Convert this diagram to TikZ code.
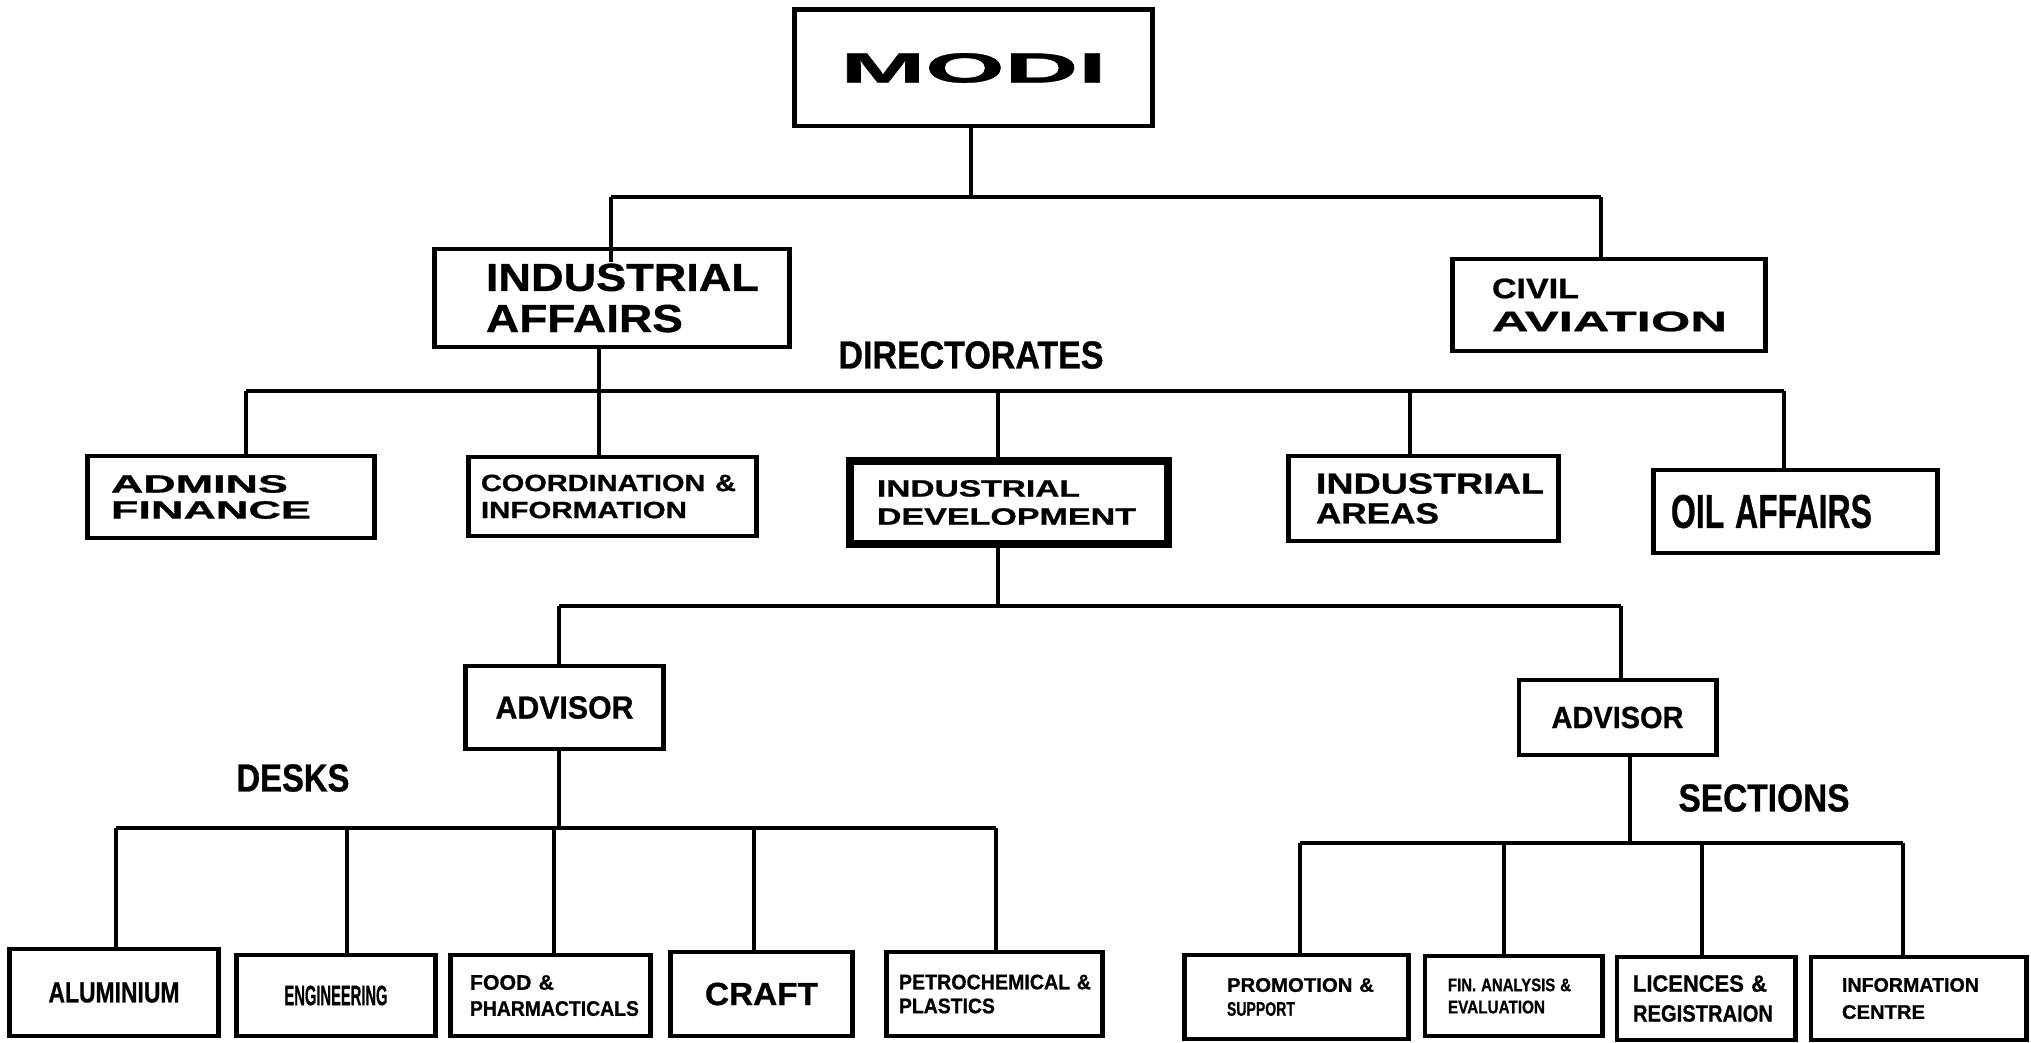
\documentclass[tikz,border=0pt]{standalone}
\usepackage{fontspec}
\setmainfont{Liberation Sans}[BoldFont={Liberation Sans Bold}, BoldFeatures={FakeBold=0.8}]
\usepackage{graphicx}
\newlength\upx
\setlength\upx{0.01cm}
\newcommand\xfit[2]{\resizebox{#1\upx}{\height}{#2}}
\newcommand\fs[2]{\fontsize{#1}{#2}\selectfont\bfseries}
\begin{document}
\begin{tikzpicture}[x=0.01cm,y=-0.01cm,
  box/.style={draw, line width=1.4pt, rectangle, inner ysep=0pt},
  lbox/.style={box, align=left},
  cbox/.style={box, align=center, inner xsep=0pt},
  conn/.style={line width=1.1pt},
  lbl/.style={inner sep=0pt}]
\useasboundingbox (0,0) rectangle (2031,1043);

% ---- nodes ----
\node[cbox, minimum width=3.57cm, minimum height=1.16cm, font={\fs{11.9}{14}}] (modi) at (973.5,68) {\xfit{266}{MODI}};
\node[lbox, minimum height=0.98cm, inner xsep=0.51cm, text width=2.52cm, font={\fs{11.1}{11.7}}] (ia) at (612,298) {\xfit{273}{INDUSTRIAL}\\\xfit{197}{AFFAIRS}};
\node[lbox, minimum height=0.92cm, inner xsep=0.39cm, text width=2.34cm, font={\fs{8}{9.4}}] (ca) at (1609,305) {\xfit{87}{CIVIL}\\\xfit{235}{AVIATION}};
\node[lbl, font={\fs{11.1}{12}}] (dirs) at (971,355) {\xfit{265}{DIRECTORATES}};

\node[lbox, minimum height=0.82cm, inner xsep=0.23cm, text width=2.40cm, font={\fs{7.1}{7.4}}] (adm) at (231,497) {\xfit{177}{ADMINS}\\\xfit{200}{FINANCE}};
\node[lbox, minimum height=0.79cm, inner xsep=0.12cm, text width=2.63cm, font={\fs{6.7}{7.7}}] (coord) at (612.5,496.5) {\xfit{255}{COORDINATION \&}\\\xfit{206}{INFORMATION}};
\node[lbox, line width=2.4pt, minimum height=0.83cm, inner xsep=0.27cm, text width=2.64cm, font={\fs{6.7}{8}}] (indev) at (1009,502.5) {\xfit{203}{INDUSTRIAL}\\\xfit{259}{DEVELOPMENT}};
\node[lbox, minimum height=0.85cm, inner xsep=0.27cm, text width=2.15cm, font={\fs{8.3}{8.5}}] (iar) at (1423.5,498.5) {\xfit{228}{INDUSTRIAL}\\\xfit{123}{AREAS}};
\node[lbox, minimum height=0.83cm, inner xsep=0.17cm, text width=2.49cm, font={\fs{13.5}{14}}] (oil) at (1795.5,511.5) {\xfit{201}{OIL AFFAIRS}};

\node[cbox, minimum width=1.97cm, minimum height=0.83cm, font={\fs{9.1}{10}}] (advL) at (564.5,707.5) {\xfit{138}{ADVISOR}};
\node[cbox, minimum width=1.97cm, minimum height=0.75cm, font={\fs{8.7}{10}}] (advR) at (1617.5,717.5) {\xfit{132}{ADVISOR}};
\node[lbl, font={\fs{11.1}{12}}] (desks) at (293,778) {\xfit{113}{DESKS}};
\node[lbl, font={\fs{11.1}{12}}] (sections) at (1764,798) {\xfit{171}{SECTIONS}};

\node[cbox, minimum width=2.08cm, minimum height=0.87cm, font={\fs{8.3}{10}}] (alu) at (114,992.5) {\xfit{131}{ALUMINIUM}};
\node[cbox, minimum width=1.98cm, minimum height=0.81cm, font={\fs{8}{10}}] (eng) at (336,995.5) {\xfit{103}{ENGINEERING}};
\node[lbox, minimum height=0.81cm, inner xsep=0.19cm, text width=1.61cm, font={\fs{6}{7.4}}] (food) at (550.5,995.5) {\xfit{84}{FOOD \&}\\\xfit{169}{PHARMACTICALS}};
\node[cbox, minimum width=1.81cm, minimum height=0.84cm, font={\fs{9.1}{10}}] (craft) at (761.5,994) {\xfit{113}{CRAFT}};
\node[lbox, minimum height=0.84cm, inner xsep=0.12cm, text width=1.91cm, font={\fs{6}{6.8}}] (petro) at (994.5,994) {\xfit{192}{PETROCHEMICAL \&}\\\xfit{96}{PLASTICS}};

\node[lbox, minimum height=0.84cm, inner xsep=0.42cm, text width=1.39cm, font={\fs{5.6}{6.8}}] (promo) at (1296.5,997) {\xfit{147}{PROMOTION \&}\\\xfit{68}{SUPPORT}};
\node[lbox, minimum height=0.80cm, inner xsep=0.23cm, text width=1.31cm, font={\fs{5.2}{6.3}}] (fin) at (1513.5,996) {\xfit{123}{FIN. ANALYSIS \&}\\\xfit{97}{EVALUATION}};
\node[lbox, minimum height=0.83cm, inner xsep=0.16cm, text width=1.46cm, font={\fs{6.7}{8.5}}] (lic) at (1706,998.5) {\xfit{134}{LICENCES \&}\\\xfit{140}{REGISTRAION}};
\node[lbox, minimum height=0.83cm, inner xsep=0.31cm, text width=1.53cm, font={\fs{5.6}{7.7}}] (info) at (1918.5,998.5) {\xfit{137}{INFORMATION}\\\xfit{83}{CENTRE}};

% ---- junction coordinates ----
\coordinate (t0) at (971,197);
\coordinate (tL) at (611,197);
\coordinate (tR) at (1601,197);
\coordinate (iaIn) at (611,262);
\coordinate (dIA) at (599,391);
\coordinate (dL) at (246,391);
\coordinate (dR) at (1784,391);
\coordinate (d3) at (998,391);
\coordinate (d4) at (1410,391);
\coordinate (e0) at (998,606);
\coordinate (eL) at (559,606);
\coordinate (eR) at (1621,606);
\coordinate (f0) at (559,828);
\coordinate (f1) at (116,828);
\coordinate (f2) at (347,828);
\coordinate (f3) at (554,828);
\coordinate (f4) at (754,828);
\coordinate (f5) at (996,828);
\coordinate (g0) at (1630,843);
\coordinate (g1) at (1300,843);
\coordinate (g2) at (1504,843);
\coordinate (g3) at (1702,843);
\coordinate (g4) at (1903,843);

% ---- connectors ----
\draw[conn] (modi.south -| t0) -- (t0);
\draw[conn] (tL) -- (tR);
\draw[conn] (tL) -- (iaIn);
\draw[conn] (tR) -- (ca.north -| tR);

\draw[conn] (ia.south -| dIA) -- (dIA);
\draw[conn] (dL) -- (dR);
\draw[conn] (dL) -- (adm.north -| dL);
\draw[conn] (dIA) -- (coord.north -| dIA);
\draw[conn] (d3) -- (indev.north -| d3);
\draw[conn] (d4) -- (iar.north -| d4);
\draw[conn] (dR) -- (oil.north -| dR);

\draw[conn] (indev.south -| e0) -- (e0);
\draw[conn] (eL) -- (eR);
\draw[conn] (eL) -- (advL.north -| eL);
\draw[conn] (eR) -- (advR.north -| eR);

\draw[conn] (advL.south -| f0) -- (f0);
\draw[conn] (f1) -- (f5);
\foreach \c/\n in {f1/alu,f2/eng,f3/food,f4/craft,f5/petro}
  \draw[conn] (\c) -- (\n.north -| \c);

\draw[conn] (advR.south -| g0) -- (g0);
\draw[conn] (g1) -- (g4);
\foreach \c/\n in {g1/promo,g2/fin,g3/lic,g4/info}
  \draw[conn] (\c) -- (\n.north -| \c);
\end{tikzpicture}
\end{document}
